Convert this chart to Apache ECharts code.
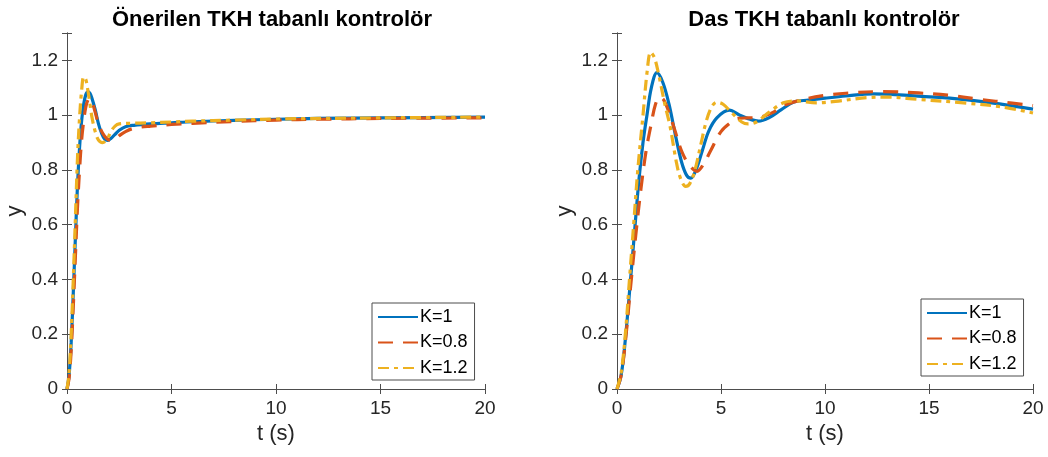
<!DOCTYPE html>
<html>
<head>
<meta charset="utf-8">
<script src="https://cdn.jsdelivr.net/npm/echarts@6/dist/echarts.min.js"></script>
<style>
  html, body { margin: 0; padding: 0; background: #fff; }
  #chart { width: 1048px; height: 457px; }
</style>
</head>
<body>
<div id="chart"></div>
<script>
// titles and legend names
var titles = ['Önerilen TKH tabanlı kontrolör', 'Das TKH tabanlı kontrolör'];
var names = ['K=1', 'K=0.8', 'K=1.2'];

// left plot: [t, y]
var leftK1 = [[0,0],[0.1,0.05],[0.2,0.17],[0.3,0.35],[0.4,0.55],[0.5,0.74],[0.6,0.88],[0.7,0.98],[0.8,1.04],[0.9,1.075],[1.0,1.085],[1.1,1.08],[1.2,1.06],[1.35,1.02],[1.5,0.97],[1.65,0.935],[1.8,0.913],[1.95,0.908],[2.1,0.915],[2.3,0.93],[2.5,0.945],[2.8,0.958],[3.2,0.963],[4,0.968],[5,0.972],[6,0.976],[8,0.981],[10,0.985],[12,0.988],[15,0.99],[20,0.993]];
var leftK08 = [[0,0],[0.1,0.04],[0.2,0.14],[0.3,0.3],[0.4,0.48],[0.5,0.66],[0.6,0.8],[0.7,0.91],[0.8,0.98],[0.9,1.03],[1.0,1.055],[1.1,1.06],[1.2,1.05],[1.35,1.01],[1.5,0.97],[1.7,0.935],[1.9,0.915],[2.1,0.908],[2.3,0.912],[2.5,0.925],[2.8,0.94],[3.2,0.952],[4,0.96],[5,0.966],[6,0.97],[8,0.977],[10,0.982],[12,0.985],[15,0.988],[20,0.99]];
var leftK12 = [[0,0],[0.1,0.06],[0.2,0.2],[0.3,0.4],[0.4,0.62],[0.5,0.84],[0.6,0.99],[0.7,1.09],[0.8,1.14],[0.9,1.13],[1.0,1.09],[1.1,1.04],[1.2,0.99],[1.35,0.94],[1.5,0.91],[1.7,0.9],[1.9,0.91],[2.1,0.94],[2.3,0.96],[2.5,0.968],[3,0.97],[4,0.972],[5,0.975],[6,0.978],[8,0.982],[10,0.986],[15,0.99],[20,0.993]];

// right plot: [t, y]
var rightK1 = [[0,0],[0.2,0.05],[0.4,0.18],[0.63,0.38],[0.85,0.58],[1.05,0.76],[1.25,0.9],[1.44,1.0],[1.65,1.1],[1.92,1.155],[2.2,1.12],[2.5,1.04],[2.8,0.93],[3.1,0.83],[3.35,0.78],[3.55,0.77],[3.8,0.8],[4.1,0.87],[4.4,0.94],[4.8,0.99],[5.4,1.018],[5.9,1.0],[6.4,0.985],[6.8,0.978],[7.3,0.99],[7.9,1.02],[8.5,1.048],[9.2,1.055],[10,1.062],[11,1.07],[12.3,1.078],[14,1.072],[16,1.062],[18,1.045],[20,1.022]];
var rightK08 = [[0,0],[0.2,0.05],[0.4,0.17],[0.65,0.37],[0.9,0.56],[1.15,0.73],[1.4,0.87],[1.65,0.97],[1.85,1.04],[2.05,1.066],[2.25,1.055],[2.5,1.01],[2.8,0.94],[3.1,0.87],[3.45,0.82],[3.85,0.795],[4.15,0.82],[4.5,0.87],[5.0,0.94],[5.5,0.975],[5.8,0.988],[6.3,0.99],[6.9,0.993],[7.5,1.01],[8,1.035],[9,1.058],[10,1.072],[11,1.08],[12.8,1.086],[14.5,1.081],[15.9,1.073],[17.4,1.058],[19,1.044],[20,1.035]];
var rightK12 = [[0,0],[0.2,0.06],[0.4,0.2],[0.6,0.4],[0.8,0.6],[1.0,0.8],[1.25,1.0],[1.45,1.16],[1.62,1.23],[1.8,1.21],[2.0,1.15],[2.3,1.04],[2.55,0.96],[2.85,0.83],[3.05,0.77],[3.3,0.74],[3.5,0.75],[3.75,0.8],[4.05,0.9],[4.3,0.98],[4.55,1.03],[4.8,1.047],[5.1,1.04],[5.5,1.01],[6.0,0.975],[6.3,0.968],[6.7,0.975],[7.3,1.01],[8.0,1.045],[8.6,1.052],[9.6,1.045],[10.5,1.05],[12,1.064],[13,1.066],[14.4,1.058],[16.8,1.044],[18.5,1.03],[20,1.008]];

var colors = ['#0072BD', '#D95319', '#EDB120'];
var dashes = ['solid', [15, 10], [11, 5, 4, 5]];
var font = 'Liberation Sans, Arial, sans-serif';
var axisColor = '#4d4d4d';
var textColor = '#262626';

(function () {
    var mychart = echarts.init(document.getElementById('chart'));

    function xAxes(grid) {
        return [
            {
                gridIndex: grid, type: 'value', min: 0, max: 20, interval: 5,
                name: 't (s)', nameLocation: 'middle', nameGap: 31,
                nameTextStyle: { fontFamily: font, fontSize: 22, color: textColor },
                axisLine: { lineStyle: { color: axisColor, width: 1 } },
                axisTick: { inside: true, length: 5, lineStyle: { color: axisColor } },
                axisLabel: { fontFamily: font, fontSize: 19, color: textColor, margin: 10 },
                splitLine: { show: false }
            },
            {
                gridIndex: grid, type: 'value', min: 0, max: 20, interval: 5, position: 'top',
                axisLine: { lineStyle: { color: axisColor, width: 1 } },
                axisTick: { inside: true, length: 5, lineStyle: { color: axisColor } },
                axisLabel: { show: false },
                splitLine: { show: false }
            }
        ];
    }

    function yAxes(grid) {
        return [
            {
                gridIndex: grid, type: 'value', min: 0, max: 1.3, interval: 0.2,
                name: 'y', nameLocation: 'middle', nameGap: 41, nameRotate: 90,
                nameTextStyle: { fontFamily: font, fontSize: 22, color: textColor },
                axisLine: { show: true, lineStyle: { color: axisColor, width: 1 } },
                axisTick: { show: true, inside: true, length: 5, lineStyle: { color: axisColor } },
                axisLabel: {
                    fontFamily: font, fontSize: 19, color: textColor, margin: 9,
                    formatter: function (v) {
                        var k = Math.round(v / 0.2);
                        if (Math.abs(v - k * 0.2) > 1e-6) return '';
                        return String(Math.round(v * 10) / 10);
                    }
                },
                splitLine: { show: false }
            },
            {
                gridIndex: grid, type: 'value', min: 0, max: 1.3, interval: 0.2, position: 'right',
                axisLine: { show: true, lineStyle: { color: axisColor, width: 1 } },
                axisTick: { show: true, inside: true, length: 5, lineStyle: { color: axisColor } },
                axisLabel: { show: false },
                splitLine: { show: false }
            }
        ];
    }

    function line(name, data, idx, axis) {
        return {
            name: name, type: 'line', data: data,
            xAxisIndex: axis, yAxisIndex: axis,
            smooth: 0.35, symbol: 'none', animation: false,
            lineStyle: { color: colors[idx], width: 3.2, type: dashes[idx], cap: 'butt' },
            itemStyle: { color: colors[idx] }
        };
    }

    function legend(left, top) {
        return {
            data: names, orient: 'vertical', left: left, top: top,
            itemWidth: 40, itemHeight: 14, itemGap: 7.5,
            padding: [5, 7, 3, 5],
            itemStyle: { opacity: 0 },
            backgroundColor: '#fff', borderColor: axisColor, borderWidth: 1, borderRadius: 0,
            textStyle: { fontFamily: font, fontSize: 18, lineHeight: 18, color: '#000', padding: [0, 0, 0, -3] }
        };
    }

    var option = {
        backgroundColor: '#fff',
        animation: false,
        title: [
            { text: titles[0], left: 267, top: 4, textAlign: 'center',
              textStyle: { fontFamily: font, fontSize: 22, fontWeight: 'bold', color: '#000' } },
            { text: titles[1], left: 819, top: 4, textAlign: 'center',
              textStyle: { fontFamily: font, fontSize: 22, fontWeight: 'bold', color: '#000' } }
        ],
        legend: [legend(372, 303), legend(921, 299)],
        grid: [
            { left: 67, right: 563, top: 33, bottom: 68 },
            { left: 617, right: 15, top: 33, bottom: 68 }
        ],
        xAxis: xAxes(0).concat(xAxes(1)),
        yAxis: yAxes(0).concat(yAxes(1)),
        series: [
            line(names[0], leftK1, 0, 0),
            line(names[1], leftK08, 1, 0),
            line(names[2], leftK12, 2, 0),
            line(names[0], rightK1, 0, 2),
            line(names[1], rightK08, 1, 2),
            line(names[2], rightK12, 2, 2)
        ]
    };
    mychart.setOption(option);
})();
</script>
</body>
</html>
